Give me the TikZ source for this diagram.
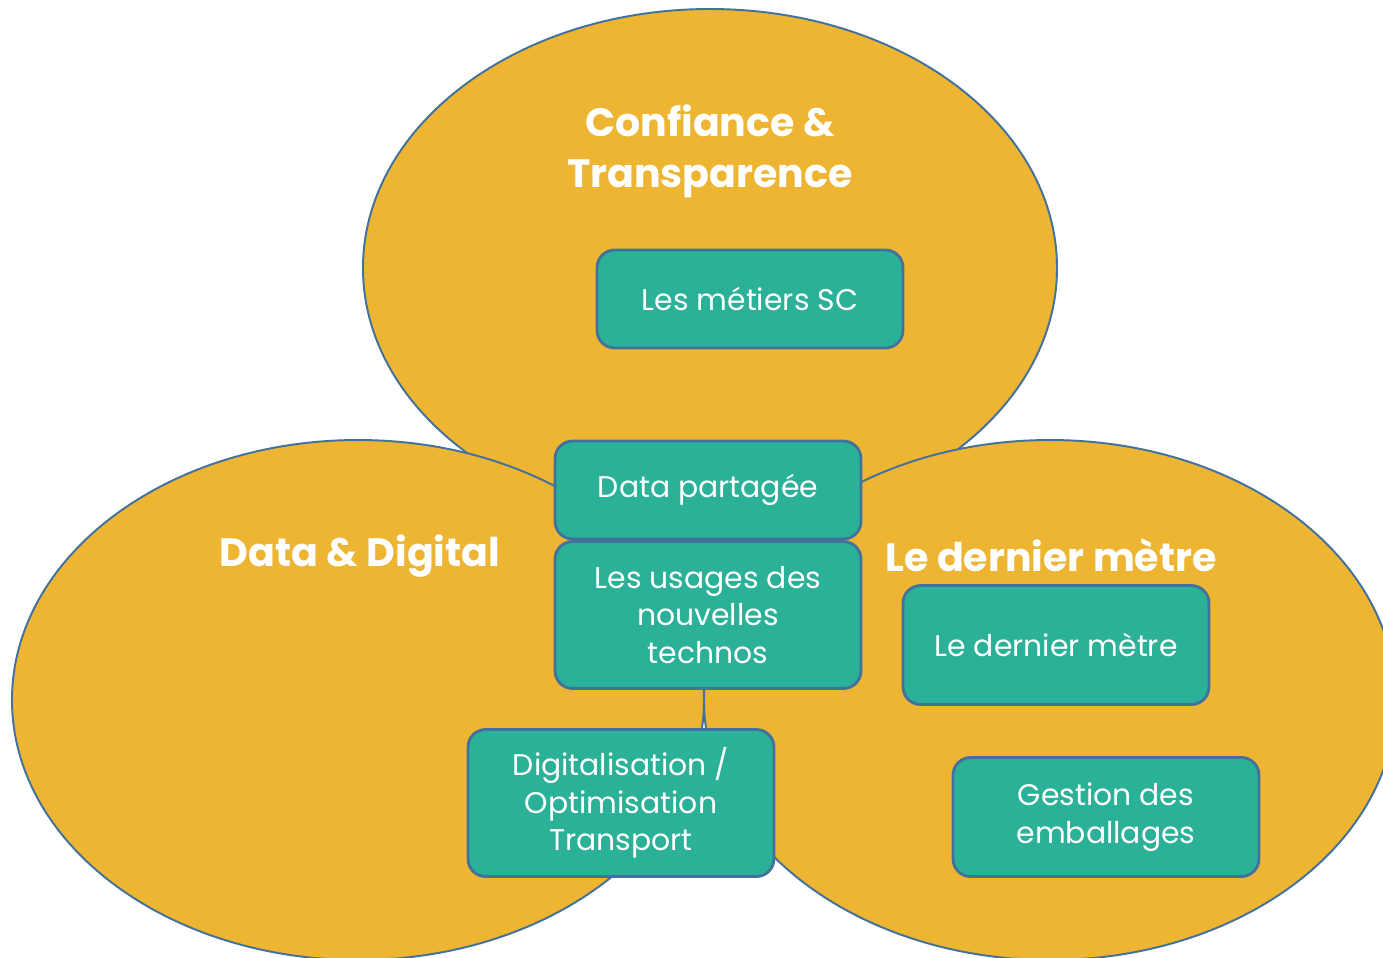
\documentclass[tikz,border=0pt]{standalone}
\usepackage{fontspec}
\setmainfont{Poppins}
\definecolor{gold}{HTML}{EDB531}
\definecolor{boxteal}{HTML}{2BB197}
\definecolor{rimblue}{HTML}{41719C}
\tikzset{
  circ/.style={draw=rimblue, fill=gold, line width=1.1pt},
  topic/.style={text=white, align=center, font=\bfseries\fontsize{22.5}{29}\selectfont},
  item/.style={draw=rimblue, fill=boxteal, line width=1.6pt, rounded corners=10pt,
    text=white, align=center, minimum width=6.12cm, font=\fontsize{17}{21.5}\selectfont},
}
\begin{document}
\begin{tikzpicture}[x=0.02cm, y=-0.02cm]
  \useasboundingbox (0,0) rectangle (1383,957);
  % the three circles
  \draw[circ] (710,268) ellipse [x radius=347, y radius=259];
  \draw[circ] (358,700) ellipse [x radius=346, y radius=260];
  \draw[circ] (1050,700) ellipse [x radius=346, y radius=260];
  % titles
  \node[topic] (confiance) at (710,151) {Confiance \&\\Transparence};
  \node[topic] (datadigital) at (360,556) {Data \& Digital};
  \node[topic] (derniertitle) at (1051,555) {Le dernier mètre};
  % boxes
  \node[item, minimum height=1.96cm] (metiers) at (750,299) {Les métiers SC};
  \node[item, minimum height=1.96cm] (partage) at (708,490) {Data partagée};
  \node[item, minimum height=2.94cm] (usages) at (708,615) {Les usages des\\nouvelles\\technos};
  \node[item, minimum height=2.94cm] (transport) at (621,803) {Digitalisation /\\Optimisation\\Transport};
  \node[item, minimum height=2.38cm] (dernier) at (1056,645) {Le dernier mètre};
  \node[item, minimum height=2.38cm] (emballages) at (1106,817) {Gestion des\\emballages};
\end{tikzpicture}
\end{document}
